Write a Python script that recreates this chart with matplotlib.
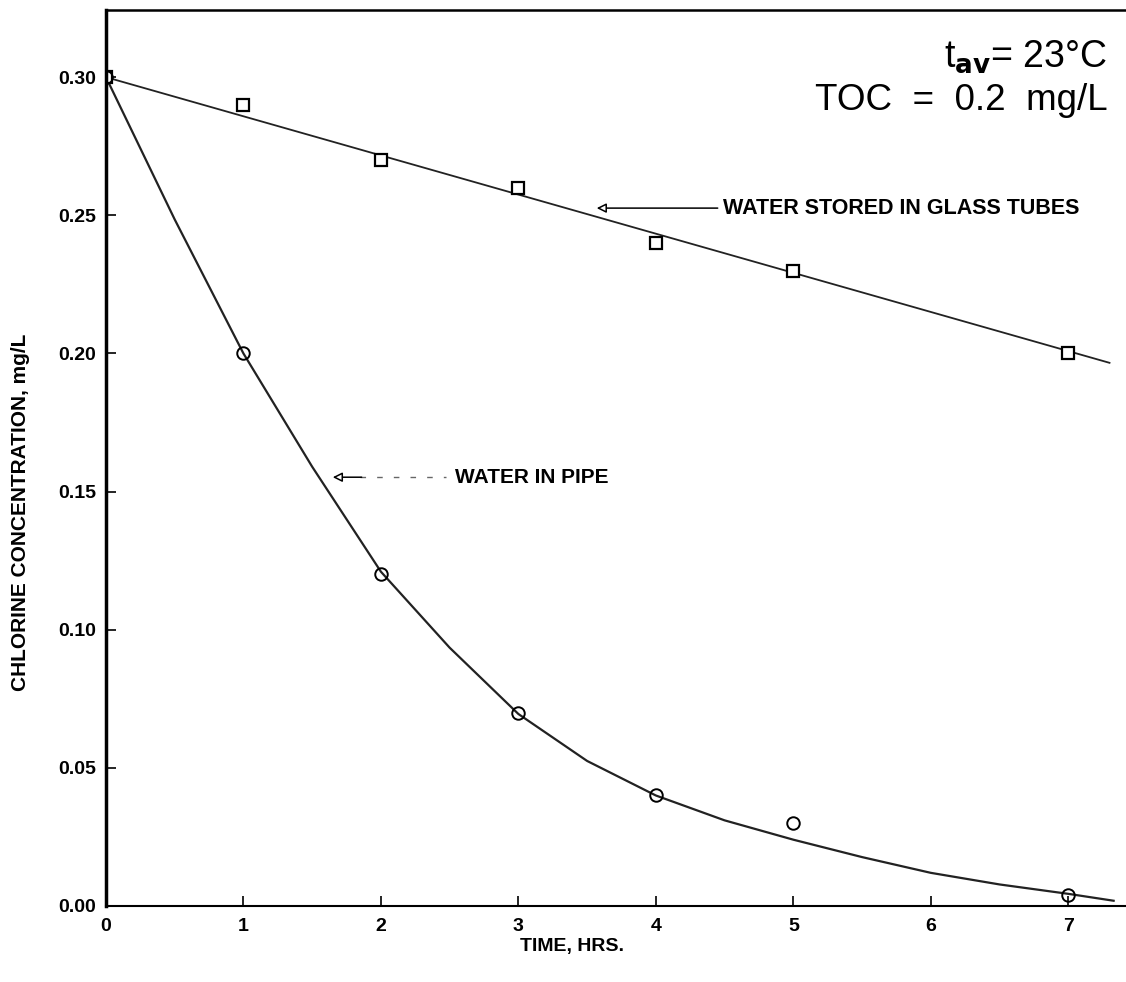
import matplotlib
matplotlib.use("Agg")
import matplotlib.pyplot as plt

plt.rcParams["font.family"] = ["Liberation Sans", "DejaVu Sans"]

# Measured points
hours = [0, 1, 2, 3, 4, 5, 7]
glass_cl = [0.30, 0.29, 0.27, 0.26, 0.24, 0.23, 0.20]
pipe_cl = [0.30, 0.20, 0.12, 0.07, 0.04, 0.03, 0.004]

# Fitted lines
glass_fit_x = [0, 7.3]
glass_fit_y = [0.300, 0.1966]
pipe_fit_x = [0, 0.5, 1, 1.5, 2, 2.5, 3, 3.5, 4, 4.5, 5, 5.5, 6, 6.5, 7, 7.33]
pipe_fit_y = [0.300, 0.2485, 0.200, 0.159, 0.121, 0.0935, 0.0695, 0.0525,
              0.040, 0.031, 0.024, 0.0177, 0.012, 0.0078, 0.0044, 0.0019]

x_ticks = [0, 1, 2, 3, 4, 5, 6, 7]
y_ticks = [0.00, 0.05, 0.10, 0.15, 0.20, 0.25, 0.30]

fig = plt.figure(figsize=(11.26, 9.82), dpi=100)
ax = fig.add_axes([0.0941, 0.0774, 0.9059, 0.9124])

# fitted curves
ax.plot(glass_fit_x, glass_fit_y, color="#222222", lw=1.3)
ax.plot(pipe_fit_x, pipe_fit_y, color="#222222", lw=1.6)

# measured points
ax.plot(hours, glass_cl, ls="none", marker="s", ms=8, mfc="white",
        mec="black", mew=1.6)
ax.plot(hours, pipe_cl, ls="none", marker="o", ms=9, mfc="none",
        mec="black", mew=1.4)

ax.set_xlim(0, 7.42)
ax.set_ylim(0, 0.3243)
ax.set_xticks(x_ticks)
ax.set_yticks(y_ticks)
ax.set_xticklabels([str(t) for t in x_ticks])
ax.set_yticklabels([f"{v:.2f}" for v in y_ticks])
ax.tick_params(direction="in", length=7, width=1.2, labelsize=14)
ax.tick_params(axis="x", pad=9)
ax.tick_params(axis="y", pad=7)
for lbl in ax.get_xticklabels() + ax.get_yticklabels():
    lbl.set_fontweight("bold")

ax.spines["right"].set_visible(False)
ax.spines["left"].set_linewidth(2.5)
ax.spines["top"].set_linewidth(1.8)
ax.spines["bottom"].set_linewidth(1.5)

# axis labels
fig.text(0.018, 0.478, "CHLORINE CONCENTRATION, mg/L", rotation=90,
         ha="center", va="center", fontsize=15, fontweight="bold")
fig.text(0.508, 0.036, "TIME, HRS.", ha="center", va="center",
         fontsize=14, fontweight="bold")

# conditions
ax.text(0.982, 0.9364, r"t$_{\mathbf{av}}$= 23°C", transform=ax.transAxes,
        ha="right", va="baseline", fontsize=27)
ax.text(0.982, 0.8884, "TOC  =  0.2  mg/L", transform=ax.transAxes,
        ha="right", va="baseline", fontsize=26.5)

# annotations with open arrowheads
ax.annotate("", xy=(3.57, 0.2526), xytext=(4.45, 0.2526),
            arrowprops=dict(arrowstyle="-|>", fc="white", ec="black",
                            lw=1.1, mutation_scale=14, shrinkA=0, shrinkB=0))
ax.text(4.49, 0.2524, "WATER STORED IN GLASS TUBES", ha="left", va="center",
        fontsize=15.5, fontweight="bold")

ax.plot([1.85, 2.47], [0.1552, 0.1552], color="#666666", lw=1, ls=(0, (4, 8)))
ax.annotate("", xy=(1.65, 0.1552), xytext=(1.86, 0.1552),
            arrowprops=dict(arrowstyle="-|>", fc="white", ec="black",
                            lw=1.1, mutation_scale=14, shrinkA=0, shrinkB=0))
ax.text(2.54, 0.1552, "WATER IN PIPE", ha="left", va="center",
        fontsize=15, fontweight="bold")

fig.savefig("out.png", dpi=100)
